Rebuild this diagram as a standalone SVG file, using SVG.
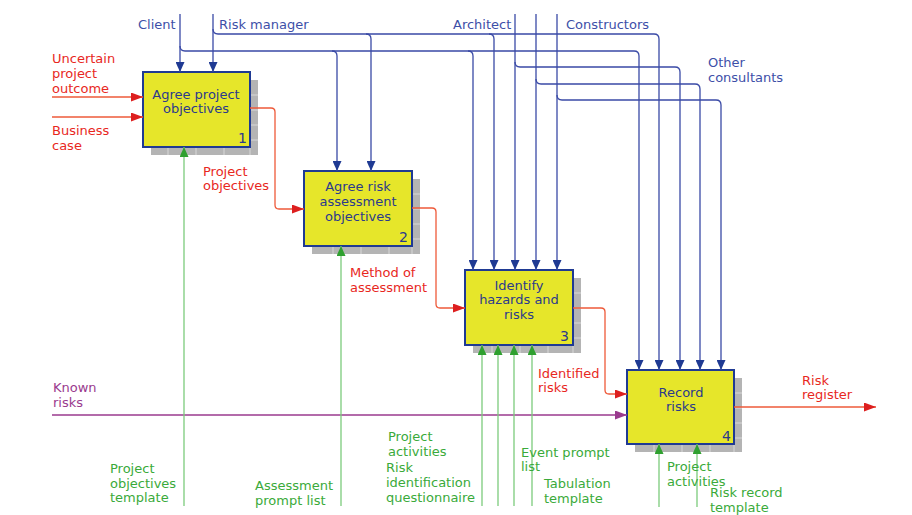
<svg xmlns="http://www.w3.org/2000/svg" width="912" height="515" viewBox="0 0 912 515">
<style>
text{font-family:"DejaVu Sans","Verdana",sans-serif;font-size:13px}
.box{fill:#e6e62a;stroke:#1f3a93;stroke-width:2}
.shadow{fill:#b4b4b4}
.grid{stroke:#d8d8d8;stroke-width:1;fill:none}
.bt{fill:#2b3a8c;text-anchor:middle}
.num{fill:#2b3a8c;font-size:14px}
.blue{fill:none;stroke:#3a4aa6;stroke-width:1.3}
.red{fill:none;stroke:#ee5a3a;stroke-width:1.3}
.green{fill:none;stroke:#7ccb7c;stroke-width:1.3}
.purple{fill:none;stroke:#9a3a8e;stroke-width:1.3}
.lb{fill:#3d4fa8}
.lr{fill:#e8281e}
.lg{fill:#3aaa3a}
.lp{fill:#9a3a8e}
</style>
<defs>
<marker id="ab" markerUnits="userSpaceOnUse" markerWidth="10" markerHeight="9" refX="10" refY="4.5" orient="auto"><path d="M0,0 L10,4.5 L0,9 z" fill="#1f3a93"/></marker>
<marker id="ar" markerUnits="userSpaceOnUse" markerWidth="12" markerHeight="9" refX="12" refY="4.5" orient="auto"><path d="M0,0 L12,4.5 L0,9 z" fill="#dd1f1f"/></marker>
<marker id="ag" markerUnits="userSpaceOnUse" markerWidth="10" markerHeight="9" refX="10" refY="4.5" orient="auto"><path d="M0,0 L10,4.5 L0,9 z" fill="#2fa02f"/></marker>
<marker id="ap" markerUnits="userSpaceOnUse" markerWidth="12" markerHeight="9" refX="12" refY="4.5" orient="auto"><path d="M0,0 L12,4.5 L0,9 z" fill="#9a3a8e"/></marker>
</defs>
<rect width="912" height="515" fill="#ffffff"/>

<g id="node1">
<rect class="shadow" x="151" y="80" width="107" height="75"/>
<path class="grid" d="M251,95 H258 M251,110 H258 M251,125 H258 M251,140 H258 M168,148 V155 M196,148 V155 M224,148 V155 M250,148 V155"/>
<rect class="box" x="143" y="72" width="107" height="75"/>
<text class="bt" x="196" y="99">Agree project</text>
<text class="bt" x="196" y="113">objectives</text>
<text class="num" x="238" y="143">1</text>
</g>

<g id="node2">
<rect class="shadow" x="312" y="179" width="108" height="75"/>
<path class="grid" d="M413,194 H420 M413,209 H420 M413,224 H420 M413,239 H420 M333,247 V254 M361,247 V254 M389,247 V254 M412,247 V254"/>
<rect class="box" x="304" y="171" width="108" height="75"/>
<text class="bt" x="358" y="191">Agree risk</text>
<text class="bt" x="358" y="206">assessment</text>
<text class="bt" x="358" y="221">objectives</text>
<text class="num" x="399" y="242">2</text>
</g>

<g id="node3">
<rect class="shadow" x="473" y="278" width="108" height="75"/>
<path class="grid" d="M574,293 H581 M574,308 H581 M574,323 H581 M574,338 H581 M492,346 V353 M520,346 V353 M548,346 V353 M573,346 V353"/>
<rect class="box" x="465" y="270" width="108" height="75"/>
<text class="bt" x="519" y="290">Identify</text>
<text class="bt" x="519" y="304">hazards and</text>
<text class="bt" x="519" y="319">risks</text>
<text class="num" x="560" y="341">3</text>
</g>

<g id="node4">
<rect class="shadow" x="635" y="378" width="107" height="74"/>
<path class="grid" d="M735,393 H742 M735,408 H742 M735,423 H742 M735,438 H742 M654,445 V452 M682,445 V452 M710,445 V452 M734,445 V452"/>
<rect class="box" x="627" y="370" width="107" height="74"/>
<text class="bt" x="681" y="397">Record</text>
<text class="bt" x="681" y="411">risks</text>
<text class="num" x="722" y="441">4</text>
</g>

<g id="connectors">
<!-- blue controls -->
<path class="blue" d="M180,14 V72" marker-end="url(#ab)"/>
<path class="blue" d="M180,46 Q180,51 185,51 H634 Q639,51 639,56 V370" marker-end="url(#ab)"/>
<path class="blue" d="M332,51 Q337,51 337,56 V171" marker-end="url(#ab)"/>
<path class="blue" d="M468,51 Q473,51 473,56 V270" marker-end="url(#ab)"/>
<path class="blue" d="M213,14 V72" marker-end="url(#ab)"/>
<path class="blue" d="M213,29 Q213,34 218,34 H654 Q659,34 659,39 V370" marker-end="url(#ab)"/>
<path class="blue" d="M366,34 Q371,34 371,39 V171" marker-end="url(#ab)"/>
<path class="blue" d="M489,34 Q494,34 494,39 V270" marker-end="url(#ab)"/>
<path class="blue" d="M515,14 V270" marker-end="url(#ab)"/>
<path class="blue" d="M515,62 Q515,67 520,67 H675 Q680,67 680,72 V370" marker-end="url(#ab)"/>
<path class="blue" d="M536,14 V270" marker-end="url(#ab)"/>
<path class="blue" d="M536,79 Q536,84 541,84 H695 Q700,84 700,89 V370" marker-end="url(#ab)"/>
<path class="blue" d="M557,14 V270" marker-end="url(#ab)"/>
<path class="blue" d="M557,95 Q557,100 562,100 H716 Q721,100 721,105 V370" marker-end="url(#ab)"/>
<!-- red inputs/outputs -->
<path class="red" d="M52,97 H143" marker-end="url(#ar)"/>
<path class="red" d="M52,117 H143" marker-end="url(#ar)"/>
<path class="red" d="M250,108 H271 Q275,108 275,112 V205 Q275,209 279,209 H304" marker-end="url(#ar)"/>
<path class="red" d="M412,208 H432 Q436,208 436,212 V304 Q436,308 440,308 H465" marker-end="url(#ar)"/>
<path class="red" d="M573,308 H601 Q605,308 605,312 V390 Q605,394 609,394 H627" marker-end="url(#ar)"/>
<path class="red" d="M734,407 H876" marker-end="url(#ar)"/>
<!-- purple -->
<path class="purple" d="M52,415 H627" marker-end="url(#ap)"/>
<!-- green mechanisms -->
<path class="green" d="M184,506 V147" marker-end="url(#ag)"/>
<path class="green" d="M341,506 V246" marker-end="url(#ag)"/>
<path class="green" d="M482,506 V345" marker-end="url(#ag)"/>
<path class="green" d="M498,506 V345" marker-end="url(#ag)"/>
<path class="green" d="M514,506 V345" marker-end="url(#ag)"/>
<path class="green" d="M532,506 V345" marker-end="url(#ag)"/>
<path class="green" d="M659,507 V444" marker-end="url(#ag)"/>
<path class="green" d="M697,507 V444" marker-end="url(#ag)"/>
</g>

<g id="labels">
<text class="lb" x="138" y="29">Client</text>
<text class="lb" x="219" y="29">Risk manager</text>
<text class="lb" x="453" y="29">Architect</text>
<text class="lb" x="566" y="29">Constructors</text>
<text class="lb" x="708" y="67">Other</text>
<text class="lb" x="708" y="82">consultants</text>
<text class="lr" x="52" y="63">Uncertain</text>
<text class="lr" x="52" y="78">project</text>
<text class="lr" x="52" y="93">outcome</text>
<text class="lr" x="52" y="135">Business</text>
<text class="lr" x="52" y="150">case</text>
<text class="lr" x="203" y="176">Project</text>
<text class="lr" x="203" y="190">objectives</text>
<text class="lr" x="350" y="277">Method of</text>
<text class="lr" x="350" y="292">assessment</text>
<text class="lr" x="538" y="378">Identified</text>
<text class="lr" x="538" y="392">risks</text>
<text class="lr" x="802" y="385">Risk</text>
<text class="lr" x="802" y="399">register</text>
<text class="lp" x="53" y="392">Known</text>
<text class="lp" x="53" y="407">risks</text>
<text class="lg" x="110" y="473">Project</text>
<text class="lg" x="110" y="488">objectives</text>
<text class="lg" x="110" y="502">template</text>
<text class="lg" x="255" y="490">Assessment</text>
<text class="lg" x="255" y="505">prompt list</text>
<text class="lg" x="388" y="441">Project</text>
<text class="lg" x="388" y="456">activities</text>
<text class="lg" x="386" y="472">Risk</text>
<text class="lg" x="386" y="487">identification</text>
<text class="lg" x="386" y="502">questionnaire</text>
<text class="lg" x="521" y="457">Event prompt</text>
<text class="lg" x="521" y="471">list</text>
<text class="lg" x="544" y="488">Tabulation</text>
<text class="lg" x="544" y="503">template</text>
<text class="lg" x="667" y="471">Project</text>
<text class="lg" x="667" y="486">activities</text>
<text class="lg" x="710" y="497">Risk record</text>
<text class="lg" x="710" y="512">template</text>
</g>
</svg>
